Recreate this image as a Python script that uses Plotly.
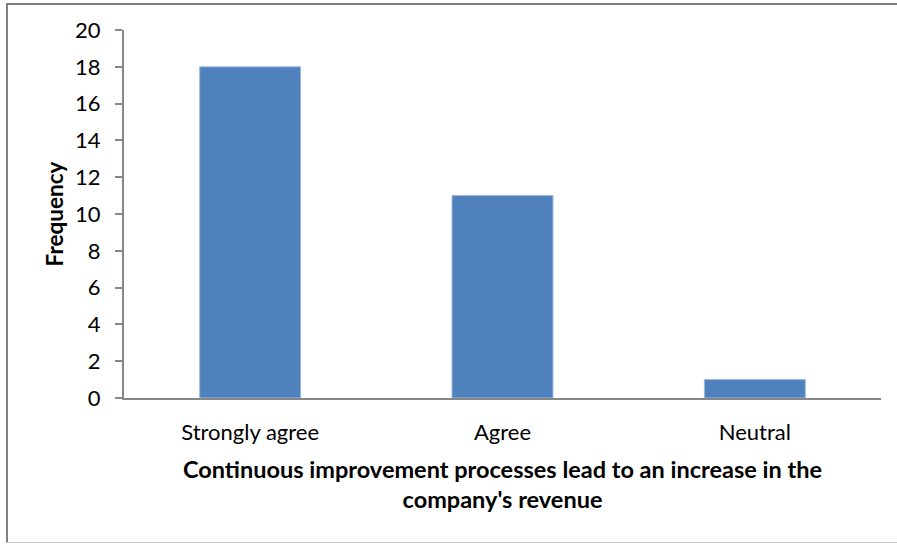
import plotly.graph_objects as go

categories = ["Strongly agree", "Agree", "Neutral"]
frequency = [18, 11, 1]
y_ticks = [0, 2, 4, 6, 8, 10, 12, 14, 16, 18, 20]

W, H = 897, 544
L, R, T, B = 124, 16, 30, 146
pw, ph = W - L - R, H - T - B


def px(x):
    return (x - L) / pw


def py(y):
    return (H - B - y) / ph


fig = go.Figure(
    go.Bar(
        x=categories,
        y=frequency,
        width=0.4,
        marker=dict(color="#4f81bd", line=dict(color="#9cb8dc", width=1)),
        hoverinfo="x+y",
    )
)

font_family = "Lato, 'Open Sans', sans-serif"

fig.update_layout(
    width=W,
    height=H,
    margin=dict(l=L, r=R, t=T, b=B),
    paper_bgcolor="white",
    plot_bgcolor="white",
    showlegend=False,
    font=dict(family=font_family, size=22, color="#000000"),
    bargap=0.6,
    xaxis=dict(
        showline=True,
        linecolor="#878787",
        linewidth=2,
        ticks="",
        showgrid=False,
        tickfont=dict(size=22),
        ticklabelstandoff=14,
        title=dict(
            text="<b>Continuous improvement processes lead to an increase in the<br>company's revenue</b>",
            font=dict(size=23.5),
            standoff=17,
        ),
    ),
    yaxis=dict(
        range=[0, 20],
        tickvals=y_ticks,
        showline=True,
        linecolor="#878787",
        linewidth=2,
        ticks="outside",
        ticklen=7,
        tickwidth=1.5,
        tickcolor="#878787",
        showgrid=False,
        zeroline=False,
        tickfont=dict(size=22),
        ticklabelstandoff=10,
        title=dict(text="<b>Frequency</b>", font=dict(size=22.5), standoff=5),
    ),
    shapes=[
        # chart frame: top, left, bottom edges
        dict(type="line", xref="paper", yref="paper",
             x0=px(6), x1=px(900), y0=py(4), y1=py(4),
             line=dict(color="#7f7f7f", width=2)),
        dict(type="line", xref="paper", yref="paper",
             x0=px(7), x1=px(7), y0=py(3), y1=py(542),
             line=dict(color="#7f7f7f", width=2)),
        dict(type="line", xref="paper", yref="paper",
             x0=px(6), x1=px(900), y0=py(542.5), y1=py(542.5),
             line=dict(color="#c8c8c8", width=1)),
    ],
)

fig.write_html("out.html")
